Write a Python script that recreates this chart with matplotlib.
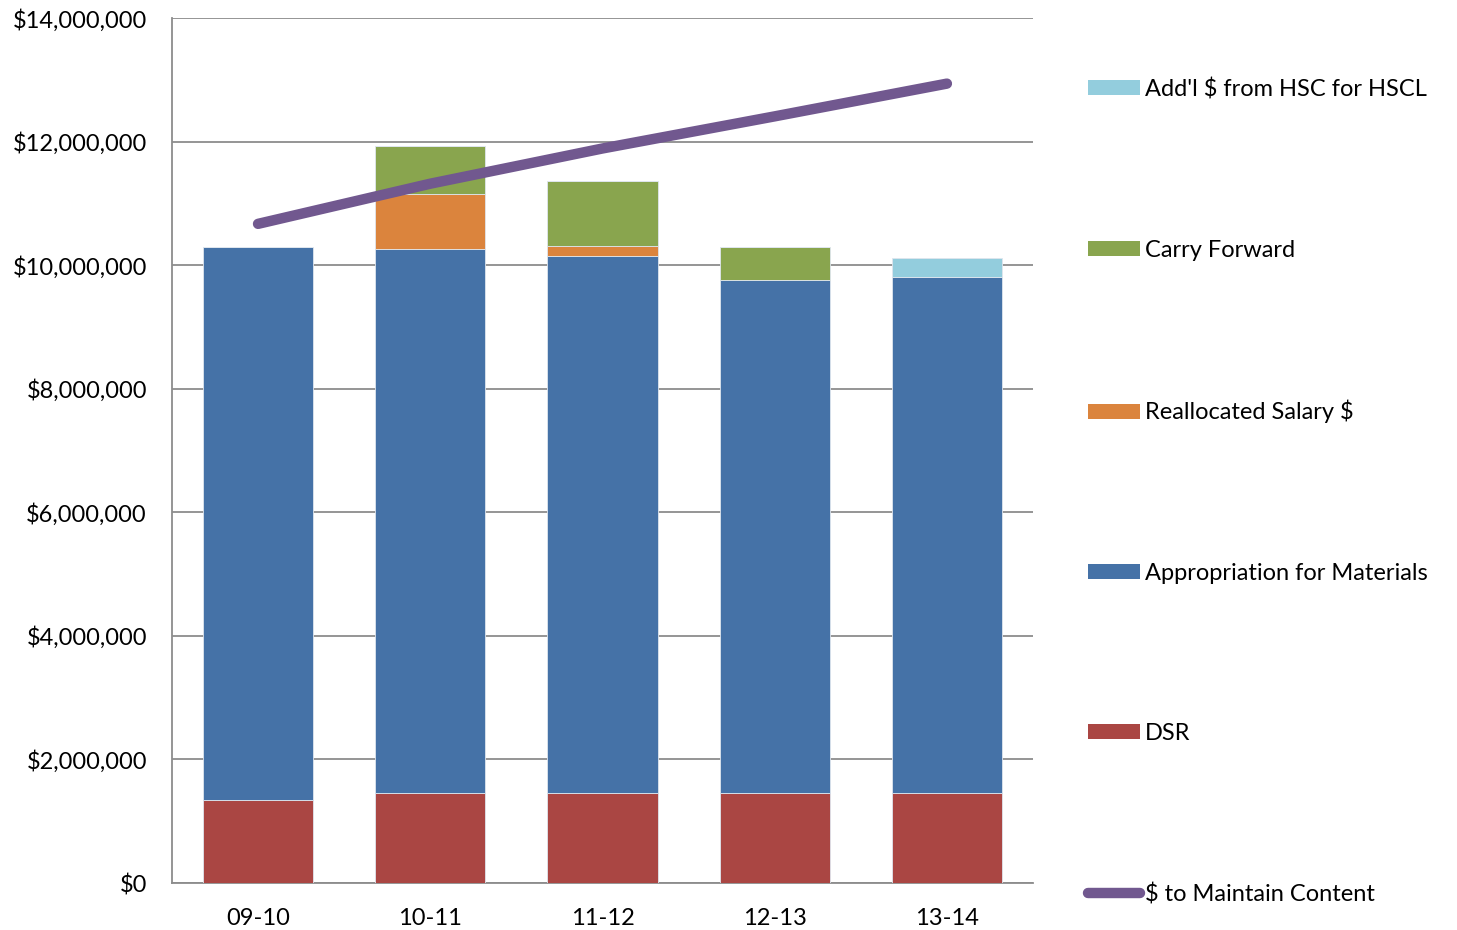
import matplotlib
matplotlib.use("Agg")
import matplotlib.pyplot as plt
from matplotlib.patches import Patch
from matplotlib.lines import Line2D
from matplotlib.ticker import FuncFormatter, MultipleLocator
import numpy as np

plt.rcParams['font.family'] = ['Lato', 'DejaVu Sans']

years = ["09-10", "10-11", "11-12", "12-13", "13-14"]
dsr = [1350000, 1450000, 1450000, 1450000, 1450000]
appropriation = [8940000, 8820000, 8700000, 8310000, 8360000]
reallocated = [0, 885000, 160000, 0, 0]
carry_forward = [0, 770000, 1050000, 540000, 0]
addl_hsc = [0, 0, 0, 0, 310000]
maintain = [10670000, 11320000, 11890000, 12410000, 12940000]

colors = {
    "dsr": "#AA4643",
    "app": "#4572A7",
    "real": "#DB843D",
    "carry": "#89A54E",
    "addl": "#93CDDD",
    "line": "#71588F",
}

fig = plt.figure(figsize=(14.57, 9.30), dpi=100)
ax = fig.add_axes([0.118, 0.0505, 0.591, 0.930])

x = np.arange(len(years))
w = 0.64
bottom = np.zeros(len(years))
series = [
    (dsr, colors["dsr"]),
    (appropriation, colors["app"]),
    (reallocated, colors["real"]),
    (carry_forward, colors["carry"]),
    (addl_hsc, colors["addl"]),
]
for vals, c in series:
    v = np.array(vals, dtype=float)
    ax.bar(x, v, w, bottom=bottom, color=c, edgecolor="#dfe6ee", linewidth=0.6, zorder=3)
    bottom += v

ax.plot(x, maintain, color=colors["line"], linewidth=7.5, solid_capstyle="round", zorder=4)

ax.set_xlim(-0.5, 4.5)
ax.set_ylim(0, 14000000)
ax.yaxis.set_major_locator(MultipleLocator(2000000))
ax.yaxis.set_major_formatter(FuncFormatter(lambda v, p: "${:,.0f}".format(v)))
ax.set_xticks(x)
ax.set_xticklabels(years)
ax.grid(axis="y", color="#8c8c8c", linewidth=1.3, zorder=0)
ax.set_axisbelow(True)
for s in ["top", "right"]:
    ax.spines[s].set_visible(False)
for s in ["left", "bottom"]:
    ax.spines[s].set_color("#8c8c8c")
    ax.spines[s].set_linewidth(1.3)
ax.tick_params(axis="both", labelsize=17, colors="black", length=0)
ax.tick_params(axis="x", pad=18)
ax.tick_params(axis="y", pad=18)

handles = [
    Patch(facecolor=colors["addl"], label="Add'l $ from HSC for HSCL"),
    Patch(facecolor=colors["carry"], label="Carry Forward"),
    Patch(facecolor=colors["real"], label="Reallocated Salary $"),
    Patch(facecolor=colors["app"], label="Appropriation for Materials"),
    Patch(facecolor=colors["dsr"], label="DSR"),
    Line2D([0], [0], color=colors["line"], linewidth=7.5, solid_capstyle="round", label="$ to Maintain Content"),
]
fig.legend(handles=handles, loc="upper left", bbox_to_anchor=(0.7403, 0.926),
           frameon=False, fontsize=17, labelspacing=5.9, handlelength=2.2,
           handleheight=0.6, handletextpad=0.2, borderaxespad=0)

fig.savefig("out.png", dpi=100)
